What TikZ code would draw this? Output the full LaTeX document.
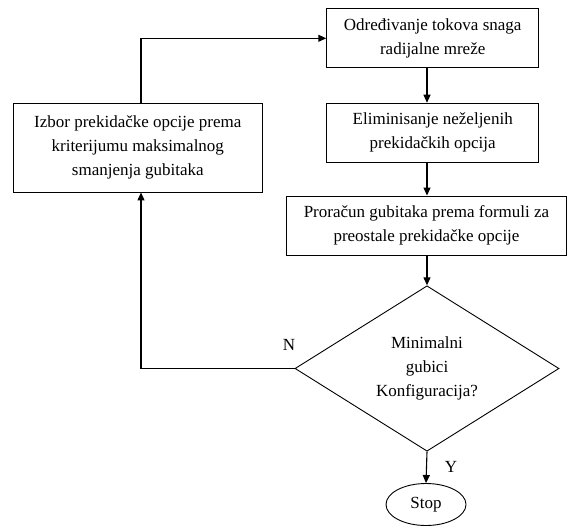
\documentclass[tikz,border=0pt]{standalone}
\usepackage{fontspec}
\setmainfont{Liberation Serif}
\usetikzlibrary{shapes.geometric,arrows.meta,calc}
\begin{document}
\begin{tikzpicture}[x=1pt,y=-1pt,
  every node/.style={font=\fontsize{17pt}{24pt}\selectfont},
  procbox/.style={draw,line width=0.9pt,align=center,inner sep=0pt},
  decbox/.style={draw,line width=0.9pt,shape=diamond,align=center,inner sep=0pt,minimum width=264pt,minimum height=161pt},
  termbox/.style={draw,line width=0.9pt,shape=ellipse,inner sep=0pt,minimum width=80pt,minimum height=42pt},
  flow/.style={line width=1.1pt,-{Triangle[length=8pt,width=7pt]}},
  lbl/.style={inner sep=0pt}]
\useasboundingbox (0,0) rectangle (567,526);
\node[procbox,minimum width=212pt,minimum height=59pt] (top) at (432.7,38.3) {Određivanje tokova snaga\\radijalne mreže};
\node[procbox,minimum width=212pt,minimum height=59pt] (elim) at (432.7,132.7) {Eliminisanje neželjenih\\prekidačkih opcija};
\node[procbox,minimum width=249pt,minimum height=89pt] (izbor) at (137.8,147.5) {Izbor prekidačke opcije prema\\kriterijumu maksimalnog\\smanjenja gubitaka};
\node[procbox,minimum width=280pt,minimum height=59pt] (calc) at (426.5,225.5) {Proračun gubitaka prema formuli za\\preostale prekidačke opcije};
\node[decbox] (dec) at (427,368.5) {Minimalni\\gubici\\Konfiguracija?};
\node[termbox] (stop) at (426,504.5) {Stop};
\coordinate (lx) at (141,0);
\draw[flow] (top.south -| dec.north) -- (elim.north -| dec.north);
\draw[flow] (elim.south -| dec.north) -- (calc.north -| dec.north);
\draw[flow] (calc.south -| dec.north) -- (dec.north);
\draw[flow] (dec.south) -- (stop.north);
\draw[flow] (dec.west) -| (lx |- izbor.south);
\draw[flow] (lx |- izbor.north) |- (top.west);
\node[lbl] (nlab) at (289,345) {N};
\node[lbl] (ylab) at (451,466.7) {Y};
\end{tikzpicture}
\end{document}
